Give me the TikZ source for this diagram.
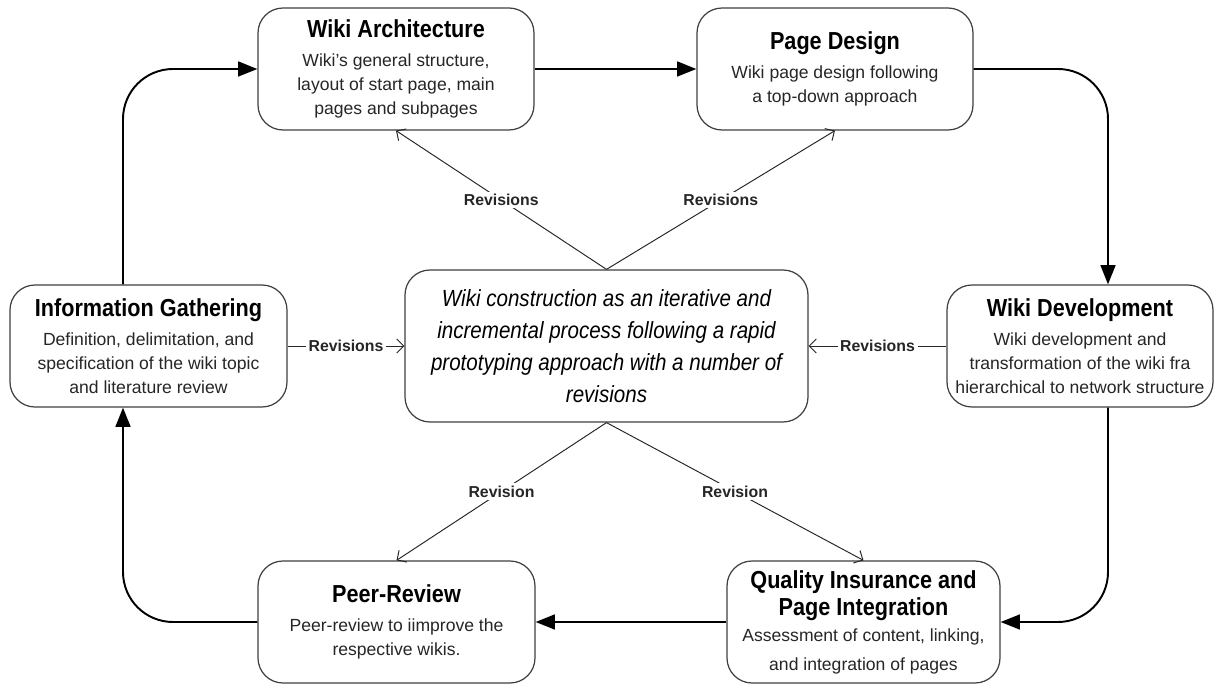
\documentclass[tikz,border=0pt]{standalone}
\usepackage{fontspec}
\setmainfont{Liberation Sans}
\newfontfamily\narrowsans[FakeStretch=0.88]{Liberation Sans}
\usetikzlibrary{arrows.meta}
\newcommand{\titre}[1]{{\color{black}\narrowsans\bfseries\fontsize{14}{17}\selectfont #1}}

\begin{document}
\begin{tikzpicture}[
	phase/.style={draw=black!75, line width=0.7pt, rounded corners=0.5cm, fill=white,
		align=center, minimum height=2.44cm, inner sep=0pt, text=black!85,
		font=\fontsize{10}{13.7}\selectfont},
	flow/.style={line width=1.1pt, rounded corners=1cm, -{Triangle[length=11pt,width=8.5pt]}},
	rev/.style={line width=0.55pt, black!85, -{Straight Barb[length=4pt,width=8pt]}},
	lab/.style={fill=white, inner sep=1.5pt, text=black!85,
		font=\bfseries\fontsize{9}{10}\selectfont}]
	\useasboundingbox (0,0) rectangle (24.36,13.68);
	% les boites
	\node[phase, minimum width=5.52cm] (arch) at (7.92,12.30)
		{\titre{Wiki Architecture}\\[2.9pt] Wiki's general structure,\\ layout of start page, main\\ pages and subpages};
	\node[phase, minimum width=5.52cm] (design) at (16.70,12.30)
		{\titre{Page Design}\\[2.9pt] Wiki page design following\\ a top-down approach};
	\node[phase, minimum width=5.54cm] (gather) at (2.97,6.76)
		{\titre{Information Gathering}\\[2.9pt] Definition, delimitation, and\\ specification of the wiki topic\\ and literature review};
	\node[phase, minimum width=8.06cm, minimum height=3.04cm, text=black,
		font=\narrowsans\itshape\fontsize{13.3}{18.2}\selectfont] (core) at (12.13,6.76)
		{Wiki construction as an iterative and\\ incremental process following a rapid\\ prototyping approach with a number of\\ revisions};
	\node[phase, minimum width=5.32cm] (develop) at (21.60,6.76)
		{\titre{Wiki Development}\\[2.9pt] Wiki development and\\ transformation of the wiki fra\\ hierarchical to network structure};
	\node[phase, minimum width=5.54cm] (review) at (7.93,1.24)
		{\titre{Peer-Review}\\[2.9pt] Peer-review to iimprove the\\ respective wikis.};
	\node[phase, minimum width=5.46cm] (quality) at (17.27,1.24)
		{\titre{Quality Insurance and}\\[2pt] \titre{Page Integration}\\[1pt] Assessment of content, linking,\\[2.5pt] and integration of pages};
	% le cycle
	\draw[flow] ([xshift=-0.51cm]gather.north) |- (arch.west);
	\draw[flow] (arch) -- (design);
	\draw[flow] (design.east) -| ([xshift=0.56cm]develop.north);
	\draw[flow] ([xshift=0.56cm]develop.south) |- (quality.east);
	\draw[flow] (quality) -- (review);
	\draw[flow] (review.west) -| ([xshift=-0.51cm]gather.south);
	% les revisions
	\draw[rev] (core.north) -- (arch.south) node[midway, lab]{Revisions};
	\draw[rev] (core.north) -- (design.south) node[midway, lab]{Revisions};
	\draw[rev] (gather) -- (core) node[midway, lab]{Revisions};
	\draw[rev] (develop) -- (core) node[midway, lab]{Revisions};
	\draw[rev] (core.south) -- (review.north) node[midway, lab]{Revision};
	\draw[rev] (core.south) -- (quality.north) node[midway, lab]{Revision};
\end{tikzpicture}
\end{document}
